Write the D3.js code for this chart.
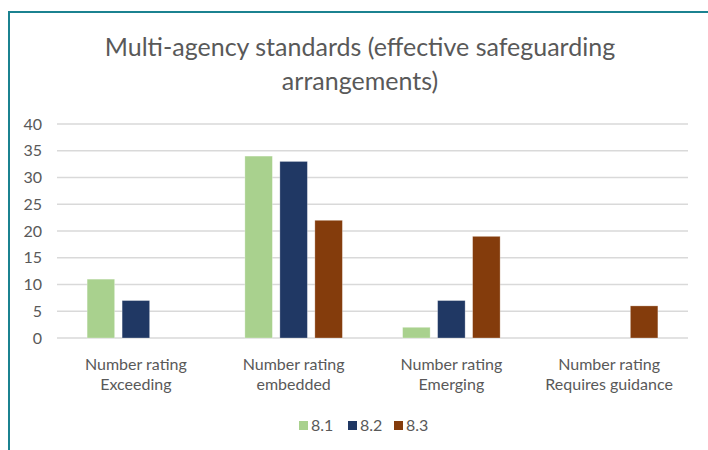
<!DOCTYPE html>
<html>
<head>
<meta charset="utf-8">
<script src="https://cdn.jsdelivr.net/npm/d3@7"></script>
<style>
  body { margin: 0; background: #fff; }
  svg { display: block; font-family: Lato, "Open Sans", sans-serif; }
</style>
</head>
<body>
<div id="chart"></div>
<script>
// data
const categories = [
  ["Number rating", "Exceeding"],
  ["Number rating", "embedded"],
  ["Number rating", "Emerging"],
  ["Number rating", "Requires guidance"]
];
const seriesNames = ["8.1", "8.2", "8.3"];
const s81 = [11, 34, 2, 0];
const s82 = [7, 33, 7, 0];
const s83 = [0, 22, 19, 6];
const yTicks = [0, 5, 10, 15, 20, 25, 30, 35, 40];
const colors = ["#a9d18e", "#203864", "#843c0c"];

const width = 708, height = 450;
const plot = { left: 57, right: 688, top: 124, bottom: 338 };

const svg = d3.select("#chart").append("svg")
  .attr("width", width)
  .attr("height", height);

// frame (teal border top + left)
svg.append("path")
  .attr("d", `M9,${height} V12 H${width}`)
  .attr("fill", "none")
  .attr("stroke", "#1b8290")
  .attr("stroke-width", 2);

// title
const title = svg.append("text")
  .attr("text-anchor", "middle")
  .attr("fill", "#595959")
  .style("font-size", "25px");
title.append("tspan").attr("x", 360).attr("y", 56).text("Multi-agency standards (effective safeguarding");
title.append("tspan").attr("x", 360).attr("y", 90).text("arrangements)");

const y = d3.scaleLinear().domain([0, 40]).range([plot.bottom, plot.top]);

const x0 = d3.scaleBand()
  .domain(d3.range(categories.length))
  .range([plot.left, plot.right])
  .paddingInner(0.382)
  .paddingOuter(0.191);

const x1 = d3.scaleBand()
  .domain(seriesNames)
  .range([0, x0.bandwidth()])
  .paddingInner(0.214)
  .paddingOuter(0);

// gridlines
svg.append("g")
  .selectAll("line")
  .data(yTicks)
  .join("line")
  .attr("x1", plot.left)
  .attr("x2", plot.right)
  .attr("y1", d => y(d))
  .attr("y2", d => y(d))
  .attr("stroke", "#d9d9d9")
  .attr("stroke-width", 1.3);

// y axis labels
const yAxis = svg.append("g")
  .attr("transform", `translate(${plot.left},0)`)
  .call(d3.axisLeft(y).tickValues(yTicks).tickSize(0).tickPadding(15));
yAxis.select(".domain").remove();
yAxis.selectAll("text")
  .attr("fill", "#595959")
  .style("font-size", "16px")
  .style("font-family", "Lato, 'Open Sans', sans-serif");

// bars
const allSeries = [s81, s82, s83];
const rows = [];
categories.forEach((c, i) => {
  seriesNames.forEach((s, j) => {
    rows.push({ cat: i, series: s, value: allSeries[j][i], color: colors[j] });
  });
});

svg.append("g")
  .selectAll("rect")
  .data(rows.filter(d => d.value > 0))
  .join("rect")
  .attr("x", d => x0(d.cat) + x1(d.series))
  .attr("y", d => y(d.value))
  .attr("width", x1.bandwidth())
  .attr("height", d => y(0) - y(d.value))
  .attr("fill", d => d.color)
  .attr("stroke", "#ffffff")
  .attr("stroke-opacity", 0.35)
  .attr("stroke-width", 0.8);

// category labels
const xl = svg.append("g")
  .selectAll("text")
  .data(categories)
  .join("text")
  .attr("text-anchor", "middle")
  .attr("fill", "#595959")
  .style("font-size", "16px");
xl.each(function (d, i) {
  const t = d3.select(this);
  const cx = x0(i) + x0.bandwidth() / 2;
  t.append("tspan").attr("x", cx).attr("y", 370).text(d[0]);
  t.append("tspan").attr("x", cx).attr("y", 390).text(d[1]);
});

// legend
const legendX = [299, 348, 394];
const lg = svg.append("g")
  .selectAll("g")
  .data(seriesNames)
  .join("g")
  .attr("transform", (d, i) => `translate(${legendX[i]},421)`);
lg.append("rect")
  .attr("width", 9)
  .attr("height", 9)
  .attr("fill", (d, i) => colors[i]);
lg.append("text")
  .attr("x", 12)
  .attr("y", 10)
  .attr("fill", "#595959")
  .style("font-size", "16px")
  .text(d => d);
</script>
</body>
</html>
